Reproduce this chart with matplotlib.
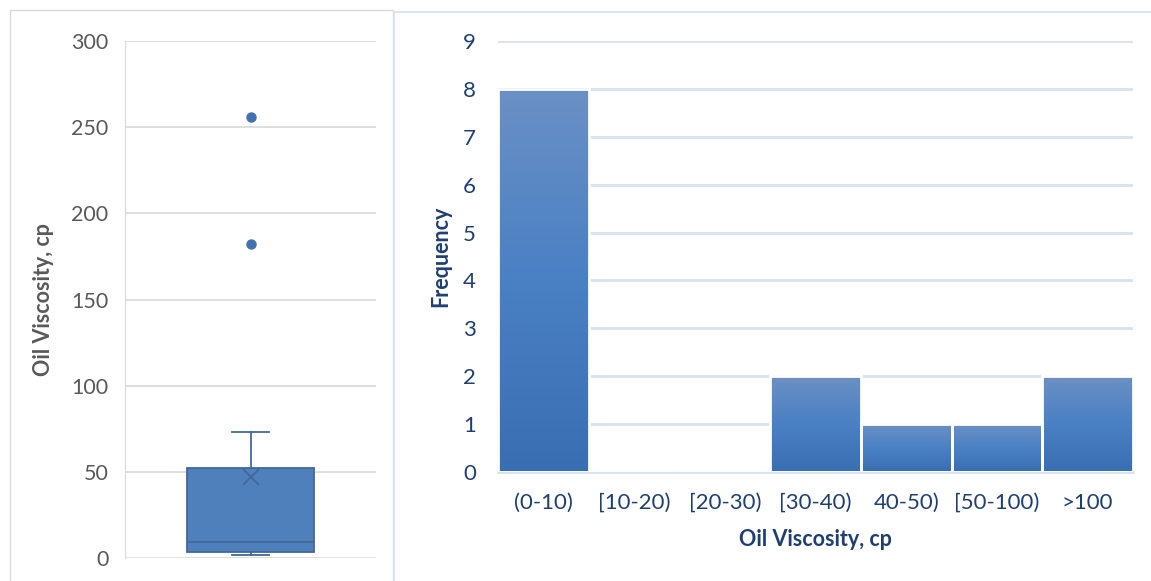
import numpy as np
import matplotlib
matplotlib.use('Agg')
import matplotlib.pyplot as plt
from matplotlib.patches import Rectangle

# box plot summary (oil viscosity, cp)
visc_q1 = 3.7
visc_median = 9.0
visc_q3 = 52.0
visc_whislo = 1.7
visc_whishi = 73.0
visc_mean = 47.0
visc_outliers = [256.0, 182.0]

# histogram
bins = ['(0-10)', '[10-20)', '[20-30)', '[30-40)', '40-50)', '[50-100)', '>100']
freq = [8, 0, 0, 2, 1, 1, 2]

plt.rcParams['font.family'] = ['Lato', 'DejaVu Sans']

fig = plt.figure(figsize=(11.51, 5.81), dpi=100)
W, H = 1151.0, 581.0

# panel frames
fig.patches.append(Rectangle((10 / W, -0.05), 383 / W, 1.0 - 10 / H + 0.05,
                             transform=fig.transFigure, fill=False,
                             edgecolor='#D9D9D9', lw=1.0))
fig.patches.append(Rectangle((394 / W, -0.05), 1.0, 1.0 - 12 / H + 0.05,
                             transform=fig.transFigure, fill=False,
                             edgecolor='#D6E2F3', lw=1.2))

# ---- left: box plot ----
ax1 = fig.add_axes([125 / W, 23 / H, 251 / W, 517 / H])
stats = [dict(med=visc_median, q1=visc_q1, q3=visc_q3, whislo=visc_whislo,
              whishi=visc_whishi, mean=visc_mean, fliers=visc_outliers)]
edge = '#41689A'
ax1.bxp(stats, positions=[1], widths=0.505, showmeans=True, patch_artist=True,
        capwidths=0.147,
        boxprops=dict(facecolor='#4F80BC', edgecolor=edge, lw=1.3),
        medianprops=dict(color=edge, lw=1.3),
        whiskerprops=dict(color=edge, lw=1.3),
        capprops=dict(color=edge, lw=1.3),
        meanprops=dict(marker='x', markeredgecolor=edge, markersize=12, mew=1.3),
        flierprops=dict(marker='o', markerfacecolor='#4472B0', markeredgecolor='#4472B0',
                        markersize=6.5))
ax1.set_xlim(0.5, 1.5)
ax1.set_ylim(0, 300)
ax1.set_yticks(np.arange(0, 301, 50))
ax1.set_xticks([])
ax1.yaxis.grid(True, color='#D9D9D9', lw=1.2)
ax1.set_axisbelow(True)
for s in ['top', 'right', 'bottom']:
    ax1.spines[s].set_visible(False)
ax1.spines['left'].set_color('#D9D9D9')
ax1.tick_params(axis='y', length=0, pad=12, labelsize=15.5, labelcolor='#595959')
ax1.set_ylabel('Oil Viscosity, cp', fontsize=15.5, fontweight='bold', color='#595959',
               labelpad=12)

# ---- right: histogram ----
ax2 = fig.add_axes([498 / W, 109 / H, 635 / W, 431 / H])
x = np.arange(len(bins))
bars = ax2.bar(x, freq, width=1.0, color='none', edgecolor='white', lw=2, zorder=3)
grad = np.linspace(0, 1, 256).reshape(-1, 1)
cmap = matplotlib.colors.LinearSegmentedColormap.from_list(
    'g', ['#3A6EB2', '#4A80C4', '#6B90C5'])
for b in bars:
    if b.get_height() > 0:
        x0, y0 = b.get_x(), b.get_y()
        ax2.imshow(grad, extent=(x0, x0 + b.get_width(), y0, y0 + b.get_height()),
                   origin='lower', cmap=cmap, aspect='auto', zorder=2)
ax2.set_xlim(-0.5, len(bins) - 0.5)
ax2.set_ylim(0, 9)
ax2.set_yticks(range(0, 10))
ax2.set_xticks(x)
ax2.set_xticklabels(bins)
ax2.yaxis.grid(True, color='#D6E2F3', lw=2)
ax2.set_axisbelow(True)
for s in ['top', 'right', 'left']:
    ax2.spines[s].set_visible(False)
ax2.spines['bottom'].set_color('#D6E2F3')
ax2.spines['bottom'].set_linewidth(2)
ax2.tick_params(length=0, labelsize=16, labelcolor='#1F3F73')
ax2.tick_params(axis='y', pad=16)
ax2.tick_params(axis='x', pad=15)
ax2.set_ylabel('Frequency', fontsize=15.5, fontweight='bold', color='#1F3F73', labelpad=8)
ax2.set_xlabel('Oil Viscosity, cp', fontsize=15.5, fontweight='bold', color='#1F3F73',
               labelpad=12)

fig.savefig('out.png', dpi=100)
